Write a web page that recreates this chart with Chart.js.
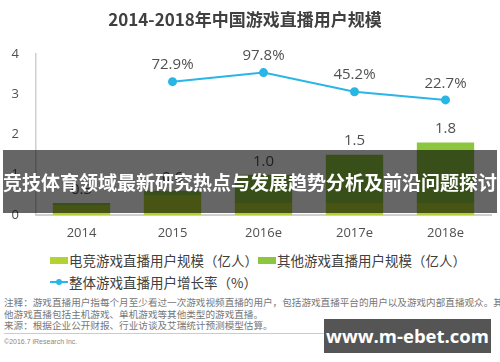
<!DOCTYPE html>
<html><head><meta charset="utf-8">
<script src="https://cdn.jsdelivr.net/npm/chart.js@4/dist/chart.umd.min.js"></script>
<style>
html,body{margin:0;padding:0;background:#fff;}
#wrap{position:relative;width:500px;height:362px;overflow:hidden;font-family:"Open Sans","Noto Sans CJK SC",sans-serif;}
#title{position:absolute;left:0;top:6px;width:490px;text-align:center;font-family:"Noto Sans CJK SC",sans-serif;font-weight:bold;font-size:17px;color:#404040;}
#cv{position:absolute;left:0;top:0;}
.leg{position:absolute;font-family:"Noto Sans CJK SC",sans-serif;font-size:13.5px;color:#404040;white-space:nowrap;line-height:16px;}
.sw{position:absolute;width:18px;height:7px;}
#banner{position:absolute;left:3px;top:150px;width:494px;height:63px;background:rgba(0,0,0,0.6);color:#fff;font-family:"Noto Sans CJK SC",sans-serif;font-weight:bold;font-size:19px;line-height:63px;text-align:center;white-space:nowrap;}
#note{position:absolute;left:4px;top:297px;font-family:"Noto Sans CJK SC",sans-serif;font-size:9.6px;line-height:11.5px;color:#777;white-space:nowrap;}
#sep{position:absolute;left:4px;top:333px;width:486px;height:1px;background:#ccc;}
#copy{position:absolute;left:4px;top:338px;font-family:"Liberation Sans",sans-serif;font-size:7px;color:#888;}
#wm{position:absolute;left:324px;top:319px;width:167px;height:34px;background:#555;color:#fff;font-family:"Open Sans",sans-serif;font-weight:bold;font-size:18.5px;line-height:34px;text-align:center;}
</style></head>
<body>
<div id="wrap">
<canvas id="cv" width="500" height="250"></canvas>
<div id="title">2014-2018年中国游戏直播用户规模</div>
<div class="sw" style="left:50px;top:257px;background:#b3d334"></div>
<div class="leg" style="left:69px;top:252px">电竞游戏直播用户规模（亿人）</div>
<div class="sw" style="left:258px;top:257px;background:#8cc63f"></div>
<div class="leg" style="left:277px;top:252px">其他游戏直播用户规模（亿人）</div>
<div style="position:absolute;left:50px;top:281px;width:18px;height:2px;background:#29b6e6"></div>
<div style="position:absolute;left:56px;top:279px;width:6px;height:6px;border-radius:3px;background:#29b6e6"></div>
<div class="leg" style="left:69px;top:274px">整体游戏直播用户增长率（%）</div>
<div id="note">注释：游戏直播用户指每个月至少看过一次游戏视频直播的用户，包括游戏直播平台的用户以及游戏内部直播观众。其<br>他游戏直播包括主机游戏、单机游戏等其他类型的游戏直播。<br>来源：根据企业公开财报、行业访谈及艾瑞统计预测模型估算。</div>
<div id="sep"></div>
<div id="copy">©2016.7 iResearch Inc.</div>
<div id="banner">竞技体育领域最新研究热点与发展趋势分析及前沿问题探讨</div>
<div id="wm">www.m-ebet.com</div>
</div>
<script>
const categories = ['2014', '2015', '2016e', '2017e', '2018e'];
const esportsUsers = [0.25, 0.5, 0.3, 0.3, 0.3];
const otherUsers = [0.05, 0.1, 0.7, 1.2, 1.5];
const totalLabels = ['0.3', '0.6', '1.0', '1.5', '1.8'];
const growthRate = [null, 72.9, 97.8, 45.2, 22.7];
const yTicks = [0, 1, 2, 3, 4];

const labelPlugin = {
  id: 'labels',
  afterDatasetsDraw(chart) {
    const ctx = chart.ctx;
    const ys = chart.scales.y, xs = chart.scales.x, y2 = chart.scales.y2;
    ctx.save();
    ctx.fillStyle = '#505050';
    ctx.font = '15px "Open Sans","Noto Sans CJK SC",sans-serif';
    ctx.textAlign = 'center';
    ctx.textBaseline = 'bottom';
    categories.forEach((c, i) => {
      const tot = esportsUsers[i] + otherUsers[i];
      ctx.fillText(totalLabels[i], xs.getPixelForValue(i), ys.getPixelForValue(tot) - 6);
      if (growthRate[i] !== null) {
        ctx.fillText(growthRate[i].toFixed(1) + '%', xs.getPixelForValue(i), y2.getPixelForValue(growthRate[i]) - 9);
      }
    });
    ctx.restore();
  }
};

new Chart(document.getElementById('cv'), {
  data: {
    labels: categories,
    datasets: [
      { type: 'line', label: '整体游戏直播用户增长率（%）', data: growthRate, yAxisID: 'y2',
        borderColor: '#29b6e6', backgroundColor: '#29b6e6', borderWidth: 2,
        pointRadius: 3.5, pointHoverRadius: 3.5, tension: 0, order: 0, spanGaps: false },
      { type: 'bar', label: '电竞游戏直播用户规模（亿人）', data: esportsUsers, yAxisID: 'y',
        backgroundColor: '#b3d334', stack: 's', order: 1, barPercentage: 1, categoryPercentage: 0.63 },
      { type: 'bar', label: '其他游戏直播用户规模（亿人）', data: otherUsers, yAxisID: 'y',
        backgroundColor: '#8cc63f', stack: 's', order: 1, barPercentage: 1, categoryPercentage: 0.63 }
    ]
  },
  options: {
    responsive: false,
    animation: false,
    layout: { padding: { top: 54, right: 9, left: 0, bottom: 0 } },
    plugins: { legend: { display: false }, tooltip: { enabled: false } },
    scales: {
      x: {
        stacked: true,
        grid: { display: false, drawTicks: false },
        border: { color: '#cfcfcf', width: 2 },
        ticks: { color: '#505050', padding: 10, font: { size: 13, family: '"Open Sans","Noto Sans CJK SC",sans-serif' } },
        afterFit(s) { s.height = 35; }
      },
      y: {
        stacked: true, min: 0, max: 4,
        afterBuildTicks(s) { s.ticks = yTicks.map(v => ({ value: v })); },
        grid: { display: false, drawTicks: false },
        border: { color: '#cfcfcf', width: 1.5 },
        ticks: { color: '#505050', padding: 17, font: { size: 13, family: '"Open Sans","Noto Sans CJK SC",sans-serif' } },
        afterFit(s) { s.width = 36; }
      },
      y2: {
        display: false, position: 'right', min: -294, max: 149, stacked: false
      }
    }
  },
  plugins: [labelPlugin]
});
</script>
</body></html>
